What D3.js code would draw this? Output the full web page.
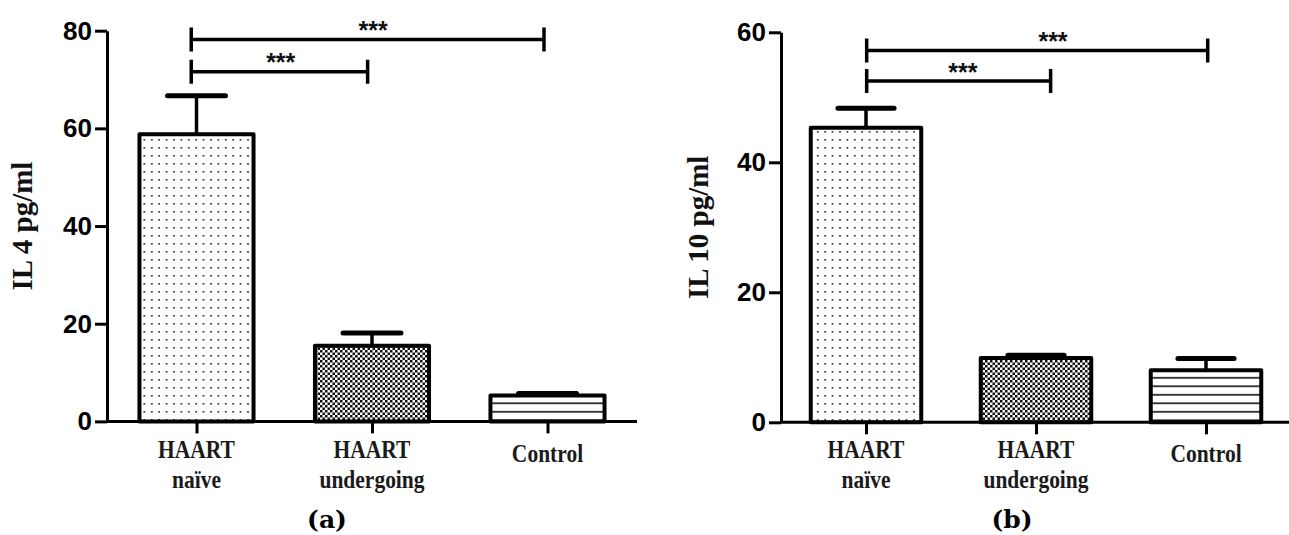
<!DOCTYPE html>
<html>
<head>
<meta charset="utf-8">
<script src="https://d3js.org/d3.v7.min.js"></script>
<style>
  html, body { margin: 0; padding: 0; background: #fff; }
  svg { display: block; }
  .tick-num { font-family: 'Liberation Sans', Arial, sans-serif; font-weight: bold; font-size: 26px; }
  .cat { font-family: 'Liberation Serif', 'Times New Roman', serif; font-weight: bold; font-size: 21.5px; }
  .ylab { font-family: 'Liberation Serif', 'Times New Roman', serif; font-weight: bold; font-size: 29px; }
  .stars { font-family: 'Liberation Sans', Arial, sans-serif; font-weight: bold; font-size: 25px; }
  .caption { font-family: 'DejaVu Serif', serif; font-weight: bold; font-size: 25px; }
</style>
</head>
<body>
<svg id="fig" width="1289" height="535"></svg>
<script>
// categories (two-line labels)
const categories = [["HAART", "naïve"], ["HAART", "undergoing"], ["Control"]];
const fills = ["dots", "checker", "lines"];

// IL 4 panel
const il4Means = [58.8, 15.5, 5.3];
const il4Sem = [7.9, 2.6, 0.4];
const il4Ticks = [0, 20, 40, 60, 80];
// brackets: from / to in category positions, level in pg/ml, star position
const il4Brackets = [
  { from: -0.03, to: 0.975, level: 71.6, at: 0.48, label: "***" },
  { from: -0.03, to: 1.98, level: 78.2, at: 1.006, label: "***" }
];

// IL 10 panel
const il10Means = [45.3, 9.9, 8.0];
const il10Sem = [3.0, 0.4, 1.8];
const il10Ticks = [0, 20, 40, 60];
const il10Brackets = [
  { from: 0.004, to: 1.086, level: 52.5, at: 0.57, label: "***" },
  { from: 0.004, to: 2.01, level: 57.2, at: 1.10, label: "***" }
];

const svg = d3.select("#fig");

// patterns
const defs = svg.append("defs");
const pDots = defs.append("pattern").attr("id", "dots")
  .attr("patternUnits", "userSpaceOnUse").attr("width", 7.4).attr("height", 8);
pDots.append("rect").attr("width", 7.4).attr("height", 8).attr("fill", "#fff");
pDots.append("rect").attr("x", 3).attr("y", 3).attr("width", 1.6).attr("height", 1.6).attr("fill", "#222");

const pCheck = defs.append("pattern").attr("id", "checker")
  .attr("patternUnits", "userSpaceOnUse").attr("width", 5).attr("height", 5);
pCheck.append("rect").attr("width", 5).attr("height", 5).attr("fill", "#fff");
pCheck.append("rect").attr("width", 2.5).attr("height", 2.5).attr("fill", "#111");
pCheck.append("rect").attr("x", 2.5).attr("y", 2.5).attr("width", 2.5).attr("height", 2.5).attr("fill", "#111");

const pLines = defs.append("pattern").attr("id", "lines")
  .attr("patternUnits", "userSpaceOnUse").attr("width", 10).attr("height", 8.5);
pLines.append("rect").attr("width", 10).attr("height", 8.5).attr("fill", "#fff");
pLines.append("rect").attr("y", 3).attr("width", 10).attr("height", 1.6).attr("fill", "#111");

function drawPanel(p) {
  const g = svg.append("g");
  const idx = categories.map((d, i) => i);

  const x = d3.scalePoint().domain(idx).range([p.x0, p.x1]).padding(p.pad);
  const xPos = d3.scaleLinear().domain([0, 2]).range([x(0), x(2)]);
  const step = x.step();
  const barW = step * 0.65;
  const y = d3.scaleLinear().domain([0, p.yMax]).range([p.yBottom, p.yTop]);

  // error bars (upper only)
  const err = g.append("g").attr("stroke", "#000");
  err.selectAll("line.stem").data(p.means).join("line")
    .attr("class", "stem")
    .attr("x1", (d, i) => x(i)).attr("x2", (d, i) => x(i))
    .attr("y1", d => y(d)).attr("y2", (d, i) => y(d + p.sem[i]))
    .attr("stroke-width", 3.5);
  err.selectAll("line.cap").data(p.means).join("line")
    .attr("class", "cap")
    .attr("x1", (d, i) => x(i) - step * 0.165).attr("x2", (d, i) => x(i) + step * 0.165)
    .attr("y1", (d, i) => y(d + p.sem[i])).attr("y2", (d, i) => y(d + p.sem[i]))
    .attr("stroke-width", 5).attr("stroke-linecap", "round");

  // bars
  g.selectAll("rect.bar").data(p.means).join("rect")
    .attr("class", "bar")
    .attr("x", (d, i) => x(i) - barW / 2)
    .attr("y", d => y(d))
    .attr("width", barW)
    .attr("height", d => y(0) - y(d))
    .attr("fill", (d, i) => `url(#${fills[i]})`)
    .attr("stroke", "#000").attr("stroke-width", 4)
    .attr("stroke-linejoin", "round");

  // y axis
  const ya = g.append("g").attr("transform", `translate(${p.x0},0)`)
    .call(d3.axisLeft(y).tickValues(p.ticks).tickSize(12).tickSizeOuter(0).tickPadding(3));
  ya.select(".domain").attr("stroke-width", 3);
  ya.selectAll(".tick line").attr("stroke-width", 3);
  ya.selectAll(".tick text").attr("class", "tick-num").attr("fill", "#000");
  ya.attr("font-size", null).attr("font-family", null);

  // x axis
  const xa = g.append("g").attr("transform", `translate(0,${p.yBottom})`)
    .call(d3.axisBottom(x).tickSize(12).tickSizeOuter(0).tickFormat(""));
  xa.select(".domain").attr("stroke-width", 3)
    .attr("d", `M${p.x0},0H${p.x1}`);
  xa.selectAll(".tick line").attr("stroke-width", 3);

  // category labels
  const lab = g.selectAll("g.cat").data(categories).join("g")
    .attr("class", "cat")
    .attr("transform", (d, i) => `translate(${x(i)},458) scale(1,1.22)`);
  lab.each(function(lines) {
    const t = d3.select(this).append("text").attr("text-anchor", "middle").attr("fill", "#1a1a1a");
    lines.forEach((s, k) => {
      t.append("tspan").attr("x", 0)
        .attr("y", lines.length === 1 ? 3.3 : k * 24.6)
        .text(s);
    });
  });

  // significance brackets
  const br = g.selectAll("g.bracket").data(p.brackets).join("g").attr("class", "bracket");
  br.append("line")
    .attr("x1", d => xPos(d.from)).attr("x2", d => xPos(d.to))
    .attr("y1", d => y(d.level)).attr("y2", d => y(d.level))
    .attr("stroke", "#000").attr("stroke-width", 3.5);
  br.append("line")
    .attr("x1", d => xPos(d.from)).attr("x2", d => xPos(d.from))
    .attr("y1", d => y(d.level) - 12).attr("y2", d => y(d.level) + 12)
    .attr("stroke", "#000").attr("stroke-width", 3.5);
  br.append("line")
    .attr("x1", d => xPos(d.to)).attr("x2", d => xPos(d.to))
    .attr("y1", d => y(d.level) - 12).attr("y2", d => y(d.level) + 12)
    .attr("stroke", "#000").attr("stroke-width", 3.5);
  br.append("text").attr("class", "stars")
    .attr("x", d => xPos(d.at)).attr("y", d => y(d.level) - 0.5)
    .attr("text-anchor", "middle").attr("fill", "#111")
    .text(d => d.label);

  // y axis title
  g.append("text").attr("class", "ylab")
    .attr("transform", `translate(${p.titleX},${(p.yTop + p.yBottom) / 2}) rotate(-90)`)
    .attr("text-anchor", "middle").attr("fill", "#111")
    .text(p.title);

  // panel caption
  g.append("text").attr("class", "caption")
    .attr("x", p.capX).attr("y", 528)
    .attr("text-anchor", "middle")
    .text(p.caption);
}

drawPanel({
  means: il4Means, sem: il4Sem, ticks: il4Ticks, brackets: il4Brackets,
  yMax: 80, x0: 107, x1: 637, pad: 0.51, yTop: 30.7, yBottom: 421.4,
  title: "IL 4 pg/ml", titleX: 32, caption: "(a)", capX: 327
});
drawPanel({
  means: il10Means, sem: il10Sem, ticks: il10Ticks, brackets: il10Brackets,
  yMax: 60, x0: 781, x1: 1291, pad: 0.5, yTop: 32.3, yBottom: 422.3,
  title: "IL 10 pg/ml", titleX: 708, caption: "(b)", capX: 1012
});
</script>
</body>
</html>
